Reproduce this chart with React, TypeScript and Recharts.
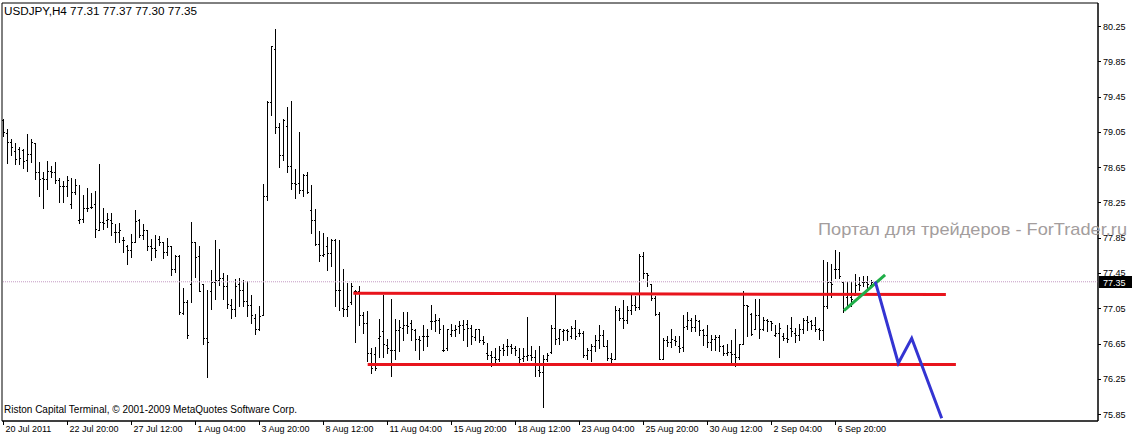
import React from "react"
import { ComposedChart, Bar, Line, XAxis, YAxis, ReferenceLine, ReferenceArea } from "recharts"

// USDJPY H4 bars (index 0 = 20 Jul 2011)
const opens = [
    79.18, 79.04, 78.93, 78.83, 78.85, 78.84, 78.73, 78.8, 78.92, 78.6, 78.53, 78.52, 78.61, 78.59, 78.5, 78.44, 78.44, 78.23, 78.37, 78.05,
    78.06, 78.19, 78.2, 78.23, 77.94, 78.03, 78.05, 78.05, 77.92, 77.92, 77.82, 77.75, 77.71, 77.8, 78.05, 77.88, 77.94, 77.75, 77.73, 77.84,
    77.8, 77.69, 77.75, 77.5, 77.64, 77.0, 77.12, 77.33, 77.8, 77.64, 77.33, 76.71, 77.24, 77.35, 77.37, 77.39, 77.3, 77.09, 77.04, 77.33,
    77.26, 77.13, 77.09, 76.94, 76.82, 76.97, 78.32, 79.39, 79.99, 79.11, 78.79, 79.12, 78.66, 78.47, 78.47, 78.39, 78.56, 78.16, 78.05, 77.78,
    77.65, 77.75, 77.68, 77.82, 77.26, 77.05, 77.04, 77.12, 77.24, 77.24, 76.97, 76.88, 76.54, 76.53, 76.71, 76.79, 76.63, 76.58, 76.58, 76.8,
    76.83, 76.86, 76.88, 76.8, 76.7, 76.73, 76.73, 76.9, 76.9, 76.92, 76.58, 76.6, 76.76, 76.8, 76.85, 76.86, 76.87, 76.83, 76.72, 76.81,
    76.69, 76.54, 76.52, 76.5, 76.48, 76.6, 76.62, 76.62, 76.6, 76.5, 76.49, 76.51, 76.52, 76.5, 76.35, 76.33, 76.48, 76.55, 76.83, 76.71,
    76.79, 76.8, 76.73, 76.83, 76.77, 76.77, 76.52, 76.58, 76.62, 76.69, 76.75, 76.62, 76.49, 76.48, 77.03, 76.94, 76.92, 77.03, 77.09, 77.06,
    77.64, 77.45, 77.32, 77.17, 76.99, 76.48, 76.69, 76.67, 76.69, 76.62, 76.61, 76.85, 76.92, 76.84, 76.91, 76.8, 76.75, 76.67, 76.7, 76.72,
    76.62, 76.54, 76.55, 76.53, 76.5, 76.65, 77.09, 76.98, 76.82, 76.97, 76.82, 76.92, 76.9, 76.75, 76.77, 76.73, 76.71, 76.83, 76.77, 76.75,
    76.81, 76.92, 76.9, 76.86, 76.81, 76.8, 77.07, 77.35, 77.5, 77.5, 77.35, 77.18, 77.18, 77.2, 77.33, 77.35, 77.35, 77.31,
]
const highs = [
    79.2, 79.08, 78.97, 78.92, 78.88, 78.86, 79.03, 78.97, 78.92, 78.71, 78.59, 78.72, 78.66, 78.71, 78.53, 78.49, 78.55, 78.53, 78.52, 78.45,
    78.33, 78.41, 78.36, 78.38, 78.69, 78.19, 78.13, 78.13, 78.01, 78.02, 77.86, 77.77, 77.89, 78.16, 78.06, 78.01, 77.94, 77.83, 77.88, 77.87,
    77.8, 77.85, 77.76, 77.65, 77.65, 77.28, 77.14, 78.03, 77.8, 77.76, 77.33, 77.26, 77.48, 77.82, 77.72, 77.45, 77.43, 77.16, 77.38, 77.39,
    77.37, 77.36, 77.2, 76.99, 77.08, 78.46, 79.4, 80.02, 80.22, 79.15, 79.19, 79.33, 79.4, 78.63, 79.05, 78.57, 78.6, 78.45, 78.18, 77.93,
    77.9, 77.86, 77.84, 77.84, 77.82, 77.5, 77.34, 77.34, 77.26, 77.3, 77.01, 77.02, 76.6, 76.61, 76.93, 77.2, 76.7, 77.16, 76.93, 76.92,
    77.01, 77.01, 76.92, 76.82, 76.73, 76.86, 76.81, 77.09, 76.99, 76.94, 76.86, 76.82, 76.87, 76.86, 76.9, 76.92, 76.92, 76.86, 76.82, 76.82,
    76.73, 76.66, 76.56, 76.6, 76.62, 76.65, 76.7, 76.65, 76.62, 76.6, 76.6, 76.95, 76.62, 76.58, 76.62, 76.52, 76.54, 76.86, 77.2, 76.82,
    76.81, 76.82, 76.85, 76.92, 76.82, 76.79, 76.6, 76.65, 76.75, 76.86, 76.8, 76.69, 76.54, 77.07, 77.05, 77.14, 77.08, 77.2, 77.19, 77.67,
    77.69, 77.45, 77.33, 77.19, 77.01, 76.71, 76.73, 76.81, 76.74, 76.73, 76.97, 77.01, 76.94, 76.97, 76.92, 76.81, 76.86, 76.75, 76.75, 76.75,
    76.63, 76.65, 76.69, 76.82, 76.65, 77.24, 77.09, 77.0, 77.15, 77.16, 76.95, 76.93, 76.9, 76.86, 76.88, 76.77, 76.86, 76.95, 76.83, 76.87,
    76.94, 76.96, 76.92, 76.95, 76.83, 77.6, 77.57, 77.55, 77.71, 77.69, 77.35, 77.35, 77.35, 77.44, 77.4, 77.41, 77.41, 77.37,
]
const lows = [
    79.0, 78.7, 78.79, 78.69, 78.69, 78.64, 78.61, 78.71, 78.52, 78.32, 78.19, 78.4, 78.54, 78.47, 78.26, 78.26, 78.32, 78.19, 78.35, 78.02,
    78.03, 78.15, 78.19, 77.86, 77.94, 77.95, 77.97, 77.88, 77.8, 77.8, 77.69, 77.55, 77.63, 77.8, 77.86, 77.84, 77.71, 77.6, 77.63, 77.77,
    77.62, 77.65, 77.43, 77.46, 76.99, 76.98, 76.71, 77.12, 77.4, 77.24, 76.65, 76.27, 77.04, 77.16, 77.31, 77.15, 77.05, 76.94, 76.96, 77.07,
    77.07, 76.96, 76.88, 76.76, 76.8, 76.97, 78.28, 79.24, 79.04, 78.65, 78.73, 78.59, 78.4, 78.3, 78.36, 78.32, 78.36, 77.9, 77.77, 77.59,
    77.64, 77.48, 77.53, 77.08, 77.03, 76.96, 76.96, 77.1, 76.67, 76.86, 76.77, 76.45, 76.32, 76.35, 76.5, 76.5, 76.54, 76.28, 76.48, 76.56,
    76.69, 76.77, 76.69, 76.58, 76.48, 76.58, 76.62, 76.82, 76.79, 76.77, 76.56, 76.58, 76.73, 76.74, 76.77, 76.69, 76.62, 76.65, 76.69, 76.67,
    76.65, 76.48, 76.39, 76.43, 76.45, 76.52, 76.52, 76.54, 76.52, 76.43, 76.45, 76.46, 76.46, 76.28, 76.28, 75.93, 76.45, 76.54, 76.65, 76.65,
    76.69, 76.69, 76.71, 76.7, 76.73, 76.5, 76.48, 76.45, 76.56, 76.6, 76.62, 76.46, 76.43, 76.48, 76.92, 76.83, 76.88, 76.99, 77.03, 77.04,
    77.39, 77.3, 77.14, 76.97, 76.48, 76.48, 76.62, 76.61, 76.63, 76.55, 76.56, 76.82, 76.79, 76.79, 76.75, 76.63, 76.61, 76.58, 76.58, 76.56,
    76.52, 76.52, 76.41, 76.39, 76.47, 76.65, 76.74, 76.75, 76.82, 76.71, 76.8, 76.79, 76.8, 76.73, 76.5, 76.69, 76.67, 76.73, 76.67, 76.69,
    76.77, 76.8, 76.82, 76.79, 76.7, 76.69, 77.05, 77.18, 77.39, 77.39, 77.01, 77.05, 77.07, 77.2, 77.26, 77.3, 77.28, 77.3,
]
const closes = [
    79.05, 78.93, 78.88, 78.74, 78.75, 78.72, 78.8, 78.93, 78.6, 78.52, 78.52, 78.61, 78.59, 78.5, 78.44, 78.44, 78.5, 78.37, 78.45, 78.06,
    78.19, 78.19, 78.2, 77.95, 78.03, 78.02, 78.06, 78.02, 77.92, 77.94, 77.82, 77.71, 77.8, 78.04, 77.88, 77.94, 77.75, 77.73, 77.71, 77.8,
    77.69, 77.75, 77.5, 77.64, 77.01, 77.12, 76.75, 77.8, 77.63, 77.24, 76.71, 76.67, 77.35, 77.37, 77.39, 77.3, 77.1, 77.04, 77.3, 77.26,
    77.13, 77.09, 76.97, 76.81, 76.96, 78.32, 79.39, 80.02, 79.11, 78.79, 79.18, 78.66, 78.47, 78.46, 78.39, 78.56, 78.37, 78.05, 77.78, 77.65,
    77.67, 77.68, 77.82, 77.26, 77.26, 77.04, 77.08, 77.3, 77.25, 76.97, 76.88, 76.54, 76.37, 76.37, 76.73, 76.65, 76.6, 76.58, 76.8, 76.84,
    76.86, 76.85, 76.82, 76.7, 76.69, 76.74, 76.73, 76.9, 76.92, 76.82, 76.58, 76.81, 76.8, 76.82, 76.86, 76.81, 76.83, 76.73, 76.81, 76.69,
    76.67, 76.52, 76.5, 76.48, 76.58, 76.58, 76.62, 76.6, 76.58, 76.48, 76.51, 76.52, 76.5, 76.41, 76.33, 76.48, 76.52, 76.83, 76.7, 76.81,
    76.8, 76.79, 76.83, 76.74, 76.77, 76.52, 76.58, 76.62, 76.69, 76.75, 76.62, 76.49, 76.48, 77.03, 76.94, 76.92, 77.03, 77.09, 77.06, 77.64,
    77.45, 77.43, 77.17, 76.99, 76.48, 76.69, 76.67, 76.7, 76.68, 76.6, 76.84, 76.92, 76.84, 76.92, 76.8, 76.75, 76.67, 76.7, 76.72, 76.62,
    76.54, 76.55, 76.53, 76.5, 76.65, 77.09, 77.07, 76.76, 76.97, 76.82, 76.92, 76.9, 76.88, 76.77, 76.83, 76.71, 76.7, 76.79, 76.75, 76.81,
    76.92, 76.89, 76.86, 76.81, 76.8, 77.07, 77.35, 77.33, 77.5, 77.41, 77.03, 77.09, 77.15, 77.31, 77.31, 77.35, 77.33, 77.35,
]

const yTicks = [80.25, 79.85, 79.45, 79.05, 78.65, 78.25, 77.85, 77.45, 77.05, 76.65, 76.25, 75.85]
const xTicks = [0, 16, 32, 48, 64, 80, 96, 112, 128, 144, 160, 176, 192, 208]
const xTickLabels = [
    "20 Jul 2011", "22 Jul 20:00", "27 Jul 12:00", "1 Aug 04:00", "3 Aug 20:00", "8 Aug 12:00", "11 Aug 04:00",
    "15 Aug 20:00", "18 Aug 12:00", "23 Aug 04:00", "25 Aug 20:00", "30 Aug 12:00", "2 Sep 04:00", "6 Sep 20:00",
]

const lastPrice = 77.35

// hand-drawn objects on the chart: [bar index, price]
const upperRange = [{ i: 87.45, p: 77.22 }, { i: 235.6, p: 77.205 }]
const lowerRange = [{ i: 91.05, p: 76.413 }, { i: 238.1, p: 76.413 }]
const greenTrend = [{ i: 210.1, p: 77.022 }, { i: 220.4, p: 77.427 }]
const blueForecast = [
    { i: 217.95, p: 77.351 },
    { i: 223.7, p: 76.426 },
    { i: 227.05, p: 76.709 },
    { i: 234.55, p: 75.802 },
]

const bars = opens.map((o, i) => ({ i, o, h: highs[i], l: lows[i], c: closes[i] }))

const X_DOMAIN: [number, number] = [-0.375, 273.625]
const Y_DOMAIN: [number, number] = [75.7715, 80.5108]
const FONT = "'Liberation Sans', Arial, sans-serif"

function OhlcBar(props: any) {
    const { x, y, width, height, payload } = props
    if (!payload || x == null || y == null) return null
    const top = Math.min(y, y + height)
    const bot = Math.max(y, y + height)
    const span = payload.h - payload.l
    const at = (v: number) => (span > 0 ? top + ((payload.h - v) / span) * (bot - top) : top)
    const cx = Math.floor(x + width / 2)
    const t = Math.round(top)
    const b = Math.round(bot)
    return (
        <g shapeRendering="crispEdges" fill="#000">
            <rect x={cx} y={t} width={1} height={Math.max(1, b - t + 1)} />
            <rect x={cx - 1} y={Math.round(at(payload.o))} width={1} height={1} />
            <rect x={cx + 1} y={Math.round(at(payload.c))} width={1} height={1} />
        </g>
    )
}

function YTick(props: any) {
    const { x, y, payload } = props
    return (
        <g>
            <line x1={x} x2={x + 3} y1={y + 0.5} y2={y + 0.5} stroke="#000" shapeRendering="crispEdges" />
            <text x={x + 5} y={y + 3.5} fontSize={9} fontFamily={FONT} fill="#000">
                {payload.value.toFixed(2)}
            </text>
        </g>
    )
}

function XTick(props: any) {
    const { x, y, payload, index } = props
    const cx = Math.floor(x) + 0.5
    return (
        <g>
            <line x1={cx} x2={cx} y1={y} y2={y + 4} stroke="#000" shapeRendering="crispEdges" />
            <text x={cx + 2} y={y + 11} fontSize={9} fontFamily={FONT} fill="#000">
                {xTickLabels[index] ?? ""}
            </text>
        </g>
    )
}

function PriceTag(props: any) {
    const { viewBox } = props
    if (!viewBox) return null
    const x = viewBox.x + viewBox.width + 1
    const y = Math.round(viewBox.y)
    return (
        <g>
            <rect x={x} y={y - 6} width={33} height={12} fill="#000" />
            <text x={x + 4} y={y + 3.5} fontSize={9} fontFamily={FONT} fill="#fff">
                {lastPrice.toFixed(2)}
            </text>
        </g>
    )
}

export default function App() {
    return (
        <div style={{ position: "absolute", left: 0, top: 0, width: 1136, height: 436, background: "#fff" }}>
            <ComposedChart width={1136} height={436} data={bars} margin={{ top: 3, right: 0, bottom: 0, left: 2 }}>
                <XAxis
                    dataKey="i"
                    type="number"
                    domain={X_DOMAIN}
                    allowDataOverflow
                    ticks={xTicks}
                    interval={0}
                    tick={<XTick />}
                    tickLine={false}
                    tickSize={0}
                    tickMargin={0}
                    axisLine={{ stroke: "#000" }}
                    height={15}
                />
                <YAxis
                    orientation="right"
                    type="number"
                    domain={Y_DOMAIN}
                    allowDataOverflow
                    ticks={yTicks}
                    interval={0}
                    tick={<YTick />}
                    tickLine={false}
                    tickSize={0}
                    tickMargin={0}
                    axisLine={{ stroke: "#000" }}
                    width={38}
                />

                <ReferenceArea x1={X_DOMAIN[0]} x2={X_DOMAIN[1]} y1={Y_DOMAIN[0]} y2={Y_DOMAIN[1]} fill="none" stroke="#000" ifOverflow="visible" />

                {/* last price */}
                <ReferenceLine y={lastPrice} stroke="#c49ac4" strokeDasharray="1 1" label={<PriceTag />} />

                <Bar dataKey={(d: any) => [d.l, d.h]} shape={<OhlcBar />} barSize={1} isAnimationActive={false} />

                {/* range borders */}
                <ReferenceLine
                    segment={[{ x: upperRange[0].i, y: upperRange[0].p }, { x: upperRange[1].i, y: upperRange[1].p }]}
                    stroke="#e8141c"
                    strokeWidth={3}
                    ifOverflow="visible"
                />
                <ReferenceLine
                    segment={[{ x: lowerRange[0].i, y: lowerRange[0].p }, { x: lowerRange[1].i, y: lowerRange[1].p }]}
                    stroke="#e8141c"
                    strokeWidth={3}
                    ifOverflow="visible"
                />

                <Line data={greenTrend} dataKey="p" stroke="#1fae48" strokeWidth={3} dot={false} isAnimationActive={false} />
                <Line data={blueForecast} dataKey="p" stroke="#3434d2" strokeWidth={3} dot={false} isAnimationActive={false} />
            </ComposedChart>

            <svg width={1136} height={436} style={{ position: "absolute", left: 0, top: 0, pointerEvents: "none" }}>
                <text x={4} y={15} fontSize={10} fontFamily={FONT} fill="#000" textLength={193} lengthAdjust="spacingAndGlyphs">
                    USDJPY,H4  77.31 77.37 77.30 77.35
                </text>
                <text x={4} y={413} fontSize={10} fontFamily={FONT} fill="#000" textLength={293} lengthAdjust="spacingAndGlyphs">
                    Riston Capital Terminal, © 2001-2009 MetaQuotes Software Corp.
                </text>
                <text x={818} y={235} fontSize={17} fontFamily={FONT} fill="#a39d9d" textLength={309} lengthAdjust="spacingAndGlyphs">
                    Портал для трейдеров - ForTrader.ru
                </text>
            </svg>
        </div>
    )
}
